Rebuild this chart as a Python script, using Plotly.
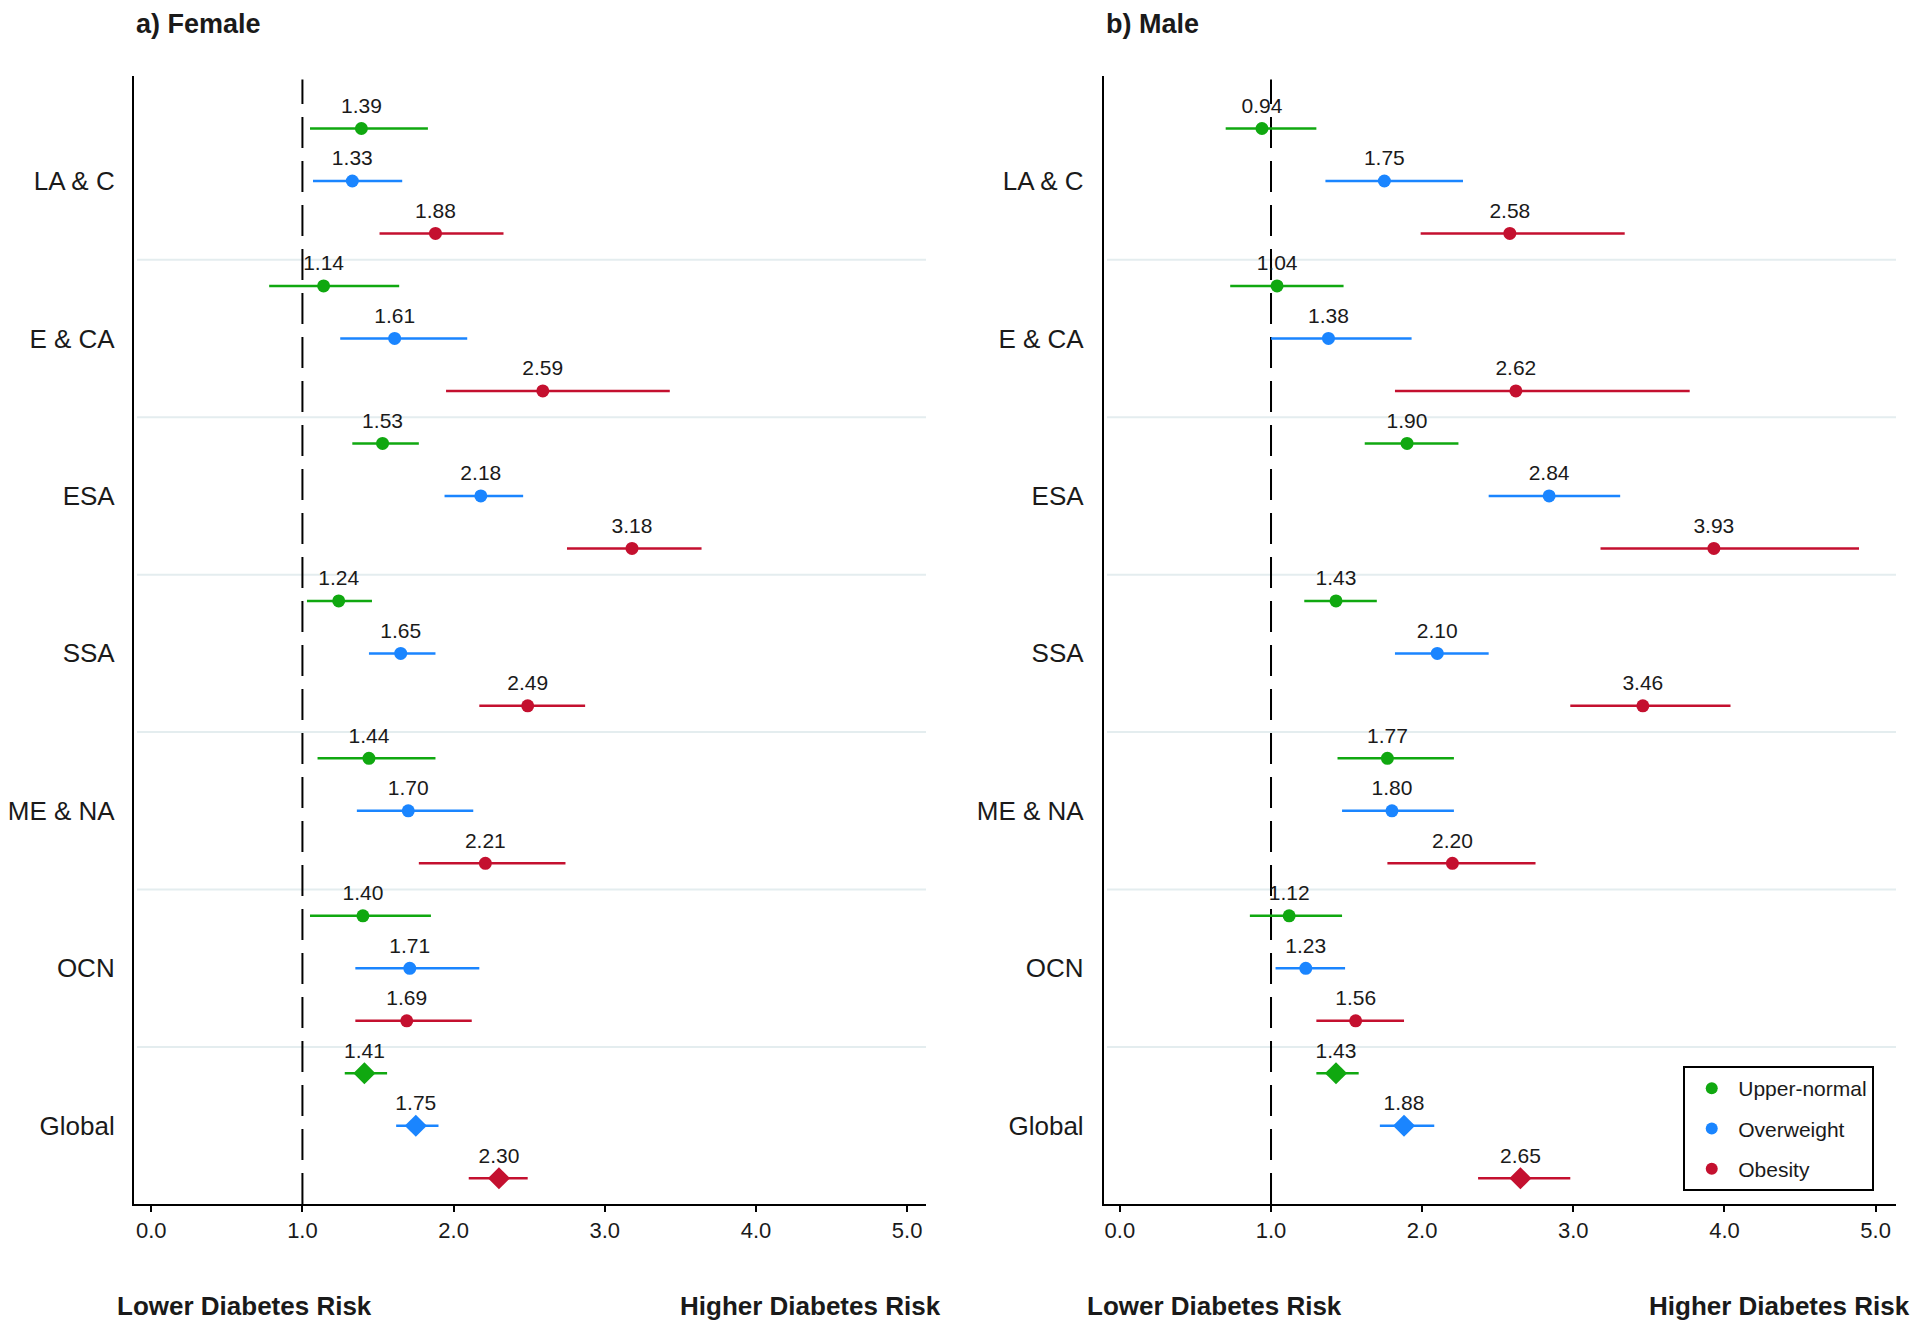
import plotly.graph_objects as go

# ---------------- data ----------------
regions = ["LA & C", "E & CA", "ESA", "SSA", "ME & NA", "OCN", "Global"]
categories = ["Upper-normal", "Overweight", "Obesity"]

female_un_est = [1.39, 1.14, 1.53, 1.24, 1.44, 1.40, 1.41]
female_un_lo = [1.05, 0.78, 1.33, 1.03, 1.10, 1.05, 1.28]
female_un_hi = [1.83, 1.64, 1.77, 1.46, 1.88, 1.85, 1.56]
female_ow_est = [1.33, 1.61, 2.18, 1.65, 1.70, 1.71, 1.75]
female_ow_lo = [1.07, 1.25, 1.94, 1.44, 1.36, 1.35, 1.62]
female_ow_hi = [1.66, 2.09, 2.46, 1.88, 2.13, 2.17, 1.90]
female_ob_est = [1.88, 2.59, 3.18, 2.49, 2.21, 1.69, 2.30]
female_ob_lo = [1.51, 1.95, 2.75, 2.17, 1.77, 1.35, 2.10]
female_ob_hi = [2.33, 3.43, 3.64, 2.87, 2.74, 2.12, 2.49]

male_un_est = [0.94, 1.04, 1.90, 1.43, 1.77, 1.12, 1.43]
male_un_lo = [0.70, 0.73, 1.62, 1.22, 1.44, 0.86, 1.30]
male_un_hi = [1.30, 1.48, 2.24, 1.70, 2.21, 1.47, 1.58]
male_ow_est = [1.75, 1.38, 2.84, 2.10, 1.80, 1.23, 1.88]
male_ow_lo = [1.36, 1.00, 2.44, 1.82, 1.47, 1.03, 1.72]
male_ow_hi = [2.27, 1.93, 3.31, 2.44, 2.21, 1.49, 2.08]
male_ob_est = [2.58, 2.62, 3.93, 3.46, 2.20, 1.56, 2.65]
male_ob_lo = [1.99, 1.82, 3.18, 2.98, 1.77, 1.30, 2.37]
male_ob_hi = [3.34, 3.77, 4.89, 4.04, 2.75, 1.88, 2.98]

x_tick_vals = [0, 1, 2, 3, 4, 5]
panel_titles = ["a) Female", "b) Male"]
bottom_left_label = "Lower Diabetes Risk"
bottom_right_label = "Higher Diabetes Risk"

colors = ["#10A810", "#1A85FF", "#C4102F"]
FONT = "Liberation Sans, Arial, Helvetica, sans-serif"
TXT = "#1a1a1a"

# page body has an 8px margin; figure is sized to fit inside it
OFF = 8
W, H = 1904, 1313


def fx(px):
    return (px - OFF) / W


def fy(py):
    return 1 - (py - OFF) / H


panels = [
    [(female_un_est, female_un_lo, female_un_hi),
     (female_ow_est, female_ow_lo, female_ow_hi),
     (female_ob_est, female_ob_lo, female_ob_hi)],
    [(male_un_est, male_un_lo, male_un_hi),
     (male_ow_est, male_ow_lo, male_ow_hi),
     (male_ob_est, male_ob_lo, male_ob_hi)],
]

fig = go.Figure()

n_reg = len(regions)
for p, pdata in enumerate(panels):
    xa = "x" if p == 0 else "x2"
    ya = "y" if p == 0 else "y2"
    for c, (est, lo, hi) in enumerate(pdata):
        ys = [3 * r + c for r in range(n_reg)]
        symbols = ["circle"] * (n_reg - 1) + ["diamond"]
        sizes = [13] * (n_reg - 1) + [17]
        fig.add_trace(go.Scatter(
            x=est, y=ys, mode="markers", xaxis=xa, yaxis=ya,
            name=categories[c], legendgroup=categories[c],
            showlegend=(p == 1),
            marker=dict(color=colors[c], size=sizes, symbol=symbols, opacity=1,
                        line=dict(width=0)),
            error_x=dict(type="data", symmetric=False,
                         array=[h - e for h, e in zip(hi, est)],
                         arrayminus=[e - l for e, l in zip(est, lo)],
                         color=colors[c], thickness=2.5, width=0),
        ))
        fig.add_trace(go.Scatter(
            x=est, y=[y - 0.40 for y in ys], mode="text", xaxis=xa, yaxis=ya,
            text=[f"{v:.2f}" for v in est], textposition="middle center",
            textfont=dict(family=FONT, size=21, color=TXT),
            showlegend=False, hoverinfo="skip",
        ))

x_domains = [[fx(132), fx(925)], [fx(1103), fx(1896)]]
x_ranges = [[-0.115, 5.125], [-0.106, 5.135]]
y_domain = [fy(1204), fy(76)]
y_range = [20.49, -1.0]
standoffs = [12, 13]

shapes = []
for p in range(2):
    sfx = "" if p == 0 else "2"
    fig.layout["xaxis" + sfx] = dict(
        domain=x_domains[p], range=x_ranges[p], anchor="y" + sfx,
        tickvals=x_tick_vals, tickformat=".1f", ticks="outside", ticklen=6,
        tickwidth=2, tickcolor="black", showline=True, linewidth=2, linecolor="black",
        showgrid=False, zeroline=False, tickfont=dict(family=FONT, size=22, color=TXT),
    )
    fig.layout["yaxis" + sfx] = dict(
        domain=y_domain, range=y_range, anchor="x" + sfx,
        tickvals=[3 * r + 1 for r in range(n_reg)], ticktext=regions,
        ticks="", ticklabelstandoff=standoffs[p], showline=True, linewidth=2,
        linecolor="black", showgrid=False, zeroline=False,
        tickfont=dict(family=FONT, size=26, color=TXT),
    )
    for k in range(n_reg - 1):
        shapes.append(dict(type="line", xref="x" + sfx + " domain", yref="y" + sfx,
                           x0=0.004, x1=1, y0=3 * k + 2.5, y1=3 * k + 2.5,
                           line=dict(color="#E4EDEF", width=2), layer="below"))
    shapes.append(dict(type="line", xref="x" + sfx, yref="y" + sfx + " domain",
                       x0=1, x1=1, y0=0, y1=0.997,
                       line=dict(color="black", width=2, dash="31px,13px"), layer="below"))

annotations = []
title_x = [133, 1104]
for p in range(2):
    annotations.append(dict(text=f"<b>{panel_titles[p]}</b>", xref="paper", yref="paper",
                            x=fx(title_x[p]), y=1.0, xanchor="left", yanchor="top",
                            borderpad=0,
                            showarrow=False, font=dict(family=FONT, size=27, color=TXT)))
bottom_x = [(243, bottom_left_label), (809, bottom_right_label),
            (1214, bottom_left_label), (1779, bottom_right_label)]
for bx, bt in bottom_x:
    annotations.append(dict(text=f"<b>{bt}</b>", xref="paper", yref="paper",
                            x=fx(bx), y=fy(1306), xanchor="center", yanchor="middle",
                            showarrow=False, font=dict(family=FONT, size=26, color=TXT)))

fig.update_layout(
    width=W, height=H, autosize=False,
    margin=dict(l=0, r=0, t=0, b=0),
    paper_bgcolor="white", plot_bgcolor="white",
    shapes=shapes, annotations=annotations,
    showlegend=True,
    legend=dict(x=fx(1683), y=fy(1066), xanchor="left", yanchor="top",
                bgcolor="white", bordercolor="black", borderwidth=2,
                font=dict(family=FONT, size=21, color=TXT),
                traceorder="grouped", tracegroupgap=10, itemsizing="constant",
                itemwidth=43),
)

fig.write_html("out.html")
